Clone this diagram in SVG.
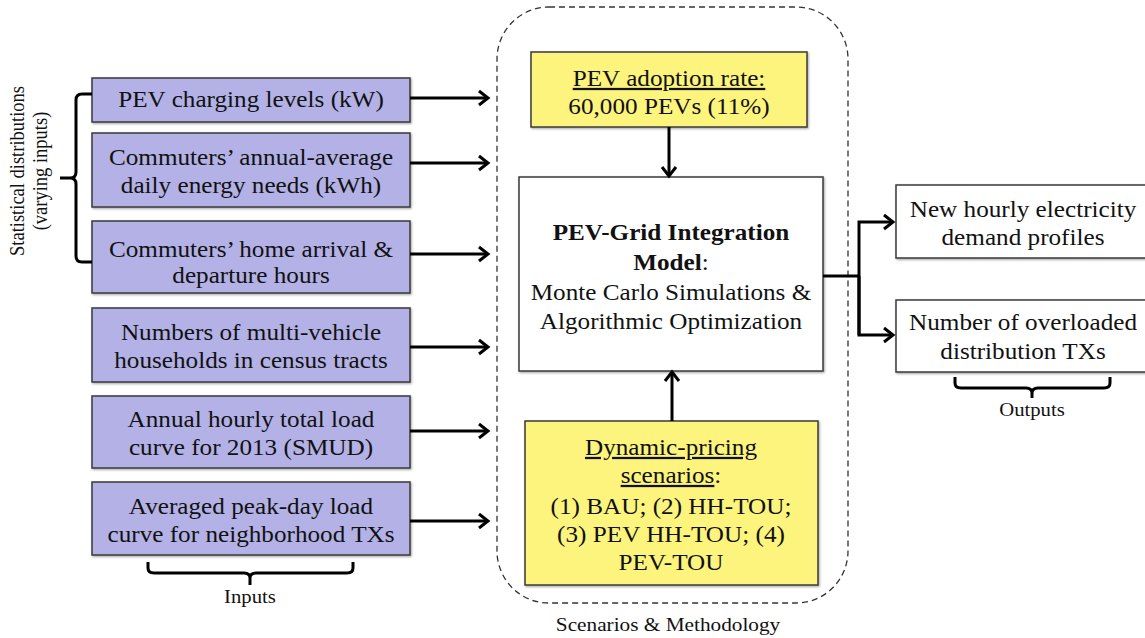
<svg xmlns="http://www.w3.org/2000/svg" width="1145" height="638" viewBox="0 0 1145 638">
<defs>
<style>
.t{font-family:"Liberation Serif","Times New Roman",serif;fill:#111;text-anchor:middle}
.in{fill:#b3b1e6;stroke:#3a3a3a;stroke-width:1.5;filter:url(#sh)}
.yl{fill:#fdf47e;stroke:#3a3a3a;stroke-width:1.5;filter:url(#sh)}
.wh{fill:#fff;stroke:#3a3a3a;stroke-width:1.5;filter:url(#sh)}
.c{fill:none;stroke:#000;stroke-width:3}
.br{fill:none;stroke:#000;stroke-width:3;stroke-linejoin:round}
.f22{font-size:22.5px}
.fs{font-size:18.5px}
</style>
<filter id="sh" x="-5%" y="-5%" width="110%" height="115%">
<feDropShadow dx="1" dy="1.2" stdDeviation="0.8" flood-color="#000" flood-opacity="0.35"/>
</filter>
<marker id="ah" markerUnits="userSpaceOnUse" markerWidth="16" markerHeight="18" refX="12" refY="9" orient="auto">
<path d="M3,2 L12,9 L3,16" fill="none" stroke="#000" stroke-width="3"/>
</marker>
</defs>
<rect width="1145" height="638" fill="#fff"/>

<g id="methodology-frame">
<rect x="497" y="7" width="351" height="596" rx="52" ry="52" fill="none" stroke="#333" stroke-width="1.3" stroke-dasharray="6,4"/>
<g transform="translate(668 631) scale(1.12 1)"><text class="t" style="font-size:19px" x="0" y="0">Scenarios &amp; Methodology</text></g>
</g>

<g id="input-charging">
<rect class="in" x="92" y="78" width="318" height="44"/>
<g transform="translate(251 0) scale(1.12 1)"><text class="t f22" x="0" y="107">PEV charging levels (kW)</text></g>
</g>
<g id="input-energy">
<rect class="in" x="92" y="133" width="318" height="74"/>
<g transform="translate(251 0) scale(1.12 1)">
<text class="t f22" x="0" y="165">Commuters’ annual-average</text>
<text class="t f22" x="0" y="193">daily energy needs (kWh)</text>
</g>
</g>
<g id="input-hours">
<rect class="in" x="92" y="221" width="318" height="72"/>
<g transform="translate(251 0) scale(1.12 1)">
<text class="t f22" x="0" y="257">Commuters’ home arrival &amp;</text>
<text class="t f22" x="0" y="283">departure hours</text>
</g>
</g>
<g id="input-households">
<rect class="in" x="92" y="308" width="318" height="74"/>
<g transform="translate(251 0) scale(1.12 1)">
<text class="t f22" x="0" y="340">Numbers of multi-vehicle</text>
<text class="t f22" x="0" y="368">households in census tracts</text>
</g>
</g>
<g id="input-loadcurve">
<rect class="in" x="92" y="396" width="318" height="72"/>
<g transform="translate(251 0) scale(1.12 1)">
<text class="t f22" x="0" y="427">Annual hourly total load</text>
<text class="t f22" x="0" y="455">curve for 2013 (SMUD)</text>
</g>
</g>
<g id="input-peakday">
<rect class="in" x="92" y="482" width="318" height="73"/>
<g transform="translate(251 0) scale(1.12 1)">
<text class="t f22" x="0" y="514">Averaged peak-day load</text>
<text class="t f22" x="0" y="542">curve for neighborhood TXs</text>
</g>
</g>

<g id="stat-brace">
<path class="br" d="M92,94 H82 Q76,94 76,100 V172 Q76,178 70,178 H60 M70,178 Q76,178 76,184 V256 Q76,262 82,262 H92"/>
<g transform="translate(24 171) scale(1.12 1) rotate(-90)"><text class="t fs" x="0" y="0">Statistical distributions</text></g>
<g transform="translate(47 171) scale(1.12 1) rotate(-90)"><text class="t fs" x="0" y="0">(varying inputs)</text></g>
</g>

<g id="inputs-brace">
<path class="br" d="M148,562 V568 Q148,573 154,573 H244 Q250,573 250,578 V585 M250,578 Q250,573 256,573 H347 Q353,573 353,568 V562"/>
<g transform="translate(250 603) scale(1.12 1)"><text class="t fs" x="0" y="0">Inputs</text></g>
</g>

<g id="adoption-rate">
<rect class="yl" x="531" y="52" width="276" height="75"/>
<g transform="translate(669 0) scale(1.12 1)">
<text class="t f22" x="0" y="86"><tspan text-decoration="underline">PEV adoption rate:</tspan></text>
<text class="t f22" x="0" y="114">60,000 PEVs (11%)</text>
</g>
</g>

<g id="integration-model">
<rect class="wh" x="519" y="177" width="304" height="194"/>
<g transform="translate(671 0) scale(1.12 1)">
<text class="t f22" x="0" y="240" font-weight="bold">PEV-Grid Integration</text>
<text class="t f22" x="0" y="270"><tspan font-weight="bold">Model</tspan>:</text>
<text class="t f22" x="0" y="300">Monte Carlo Simulations &amp;</text>
<text class="t f22" x="0" y="329">Algorithmic Optimization</text>
</g>
</g>

<g id="pricing-scenarios">
<rect class="yl" x="525" y="421" width="293" height="164"/>
<g transform="translate(671 0) scale(1.12 1)">
<text class="t f22" x="0" y="455"><tspan text-decoration="underline">Dynamic-pricing</tspan></text>
<text class="t f22" x="0" y="483"><tspan text-decoration="underline">scenarios</tspan>:</text>
<text class="t f22" x="0" y="514">(1) BAU; (2) HH-TOU;</text>
<text class="t f22" x="0" y="542">(3) PEV HH-TOU; (4)</text>
<text class="t f22" x="0" y="570">PEV-TOU</text>
</g>
</g>

<g id="output-demand">
<rect class="wh" x="896" y="185" width="252" height="73"/>
<g transform="translate(1023 0) scale(1.12 1)">
<text class="t f22" x="0" y="217">New hourly electricity</text>
<text class="t f22" x="0" y="245">demand profiles</text>
</g>
</g>
<g id="output-transformers">
<rect class="wh" x="896" y="300" width="252" height="72"/>
<g transform="translate(1023 0) scale(1.12 1)">
<text class="t f22" x="0" y="330">Number of overloaded</text>
<text class="t f22" x="0" y="359">distribution TXs</text>
</g>
</g>

<g id="outputs-brace">
<path class="br" d="M955,377 V383 Q955,388 961,388 H1026 Q1032,388 1032,393 V398 M1032,393 Q1032,388 1038,388 H1104 Q1110,388 1110,383 V377"/>
<g transform="translate(1032 416) scale(1.12 1)"><text class="t fs" x="0" y="0">Outputs</text></g>
</g>

<g id="connectors">
<line class="c" x1="410" y1="98" x2="488" y2="98" marker-end="url(#ah)"/>
<line class="c" x1="410" y1="163" x2="488" y2="163" marker-end="url(#ah)"/>
<line class="c" x1="410" y1="254" x2="488" y2="254" marker-end="url(#ah)"/>
<line class="c" x1="410" y1="347" x2="488" y2="347" marker-end="url(#ah)"/>
<line class="c" x1="410" y1="431" x2="488" y2="431" marker-end="url(#ah)"/>
<line class="c" x1="410" y1="521" x2="488" y2="521" marker-end="url(#ah)"/>
<line class="c" x1="669" y1="127" x2="669" y2="176" marker-end="url(#ah)"/>
<line class="c" x1="672" y1="421" x2="672" y2="372" marker-end="url(#ah)"/>
<path class="c" d="M823,276 H859"/>
<path class="c" d="M859,335 V222 H893" marker-end="url(#ah)"/>
<path class="c" d="M859,276 V335 H893" marker-end="url(#ah)"/>
</g>
</svg>
